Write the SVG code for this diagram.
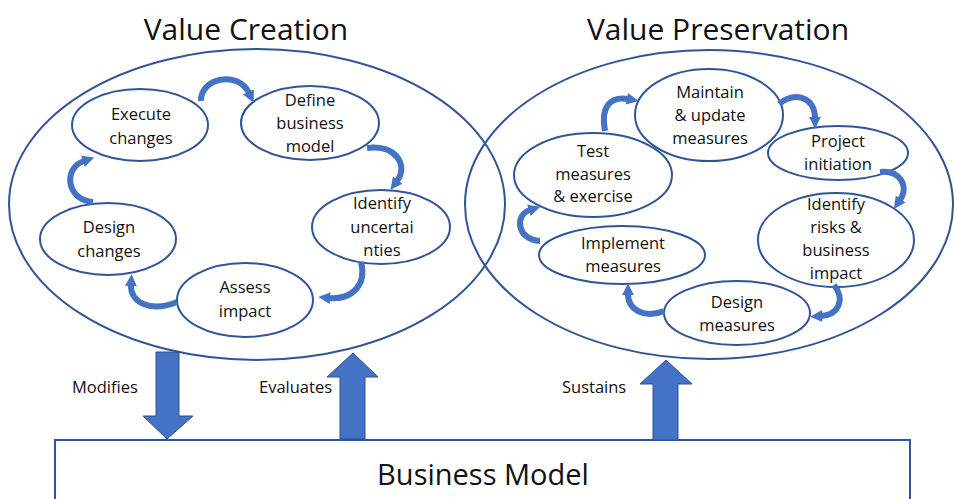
<svg xmlns="http://www.w3.org/2000/svg" width="954" height="499" viewBox="0 0 954 499">
<style>
  .big { fill: none; stroke: #2F5597; stroke-width: 2; }
  .node { fill: #fff; stroke: #2F5597; stroke-width: 2; }
  .t { font-family: "Open Sans", "Noto Sans", sans-serif; font-size: 16.5px; fill: #111; text-anchor: middle; }
  .title { font-family: "Open Sans", "Noto Sans", sans-serif; font-size: 30px; fill: #111; text-anchor: middle; }
  .lbl { font-family: "Open Sans", "Noto Sans", sans-serif; font-size: 16.5px; fill: #111; }
  .carrow { fill: none; stroke: #4472C4; stroke-width: 6; stroke-linecap: butt; marker-end: url(#head); }
  .block { fill: #4472C4; stroke: #2F528F; stroke-width: 1; }
</style>
<defs>
  <marker id="head" viewBox="0 0 10 10" refX="1" refY="5" markerWidth="2" markerHeight="2.3" orient="auto" markerUnits="strokeWidth">
    <path d="M0,0 L10,5 L0,10 Z" fill="#4472C4"/>
  </marker>
</defs>

<rect id="business-model-box" x="55" y="440" width="855" height="80" fill="#fff" stroke="#2F5597" stroke-width="2"/>

<g id="block-arrows">
  <polygon class="block" points="156,352 179,352 179,416 193,416 167,439 143,416 156,416"/>
  <polygon class="block" points="340,439 365,439 365,377 378,377 353,353 327,377 340,377"/>
  <polygon class="block" points="653,440 678,440 678,384 692,384 666,360 640,384 653,384"/>
</g>

<g id="value-creation">
  <ellipse class="big" cx="257" cy="204.5" rx="248" ry="155.5"/>
</g>
<g id="value-preservation">
  <ellipse class="big" cx="709" cy="204.5" rx="244" ry="154.5"/>
</g>

<g id="n-execute"><ellipse class="node" cx="140" cy="125" rx="68" ry="36"/></g>
<g id="n-define"><ellipse class="node" cx="310" cy="123" rx="69" ry="37"/></g>
<g id="n-identify-unc"><ellipse class="node" cx="381" cy="227" rx="69" ry="37"/></g>
<g id="n-design-changes"><ellipse class="node" cx="108" cy="239" rx="68" ry="36"/></g>
<g id="n-assess"><ellipse class="node" cx="245" cy="300" rx="68" ry="37"/></g>

<g id="n-maintain"><ellipse class="node" cx="709" cy="115" rx="74" ry="46"/></g>
<g id="n-project"><ellipse class="node" cx="838" cy="153" rx="70" ry="27"/></g>
<g id="n-test"><ellipse class="node" cx="593" cy="175" rx="79" ry="42"/></g>
<g id="n-identify-risks"><ellipse class="node" cx="836" cy="240" rx="78" ry="47"/></g>
<g id="n-implement"><ellipse class="node" cx="622" cy="255" rx="83" ry="29"/></g>
<g id="n-design-measures"><ellipse class="node" cx="737" cy="313" rx="73" ry="32"/></g>

<g id="connectors">
  <path class="carrow" d="M201,101 C200,78 238,70 249,93"/>
  <path class="carrow" d="M367,148 C395,144 409,165 397,181"/>
  <path class="carrow" d="M361,262 C367,285 352,300 329,298"/>
  <path class="carrow" d="M177,302 C150,313 130,302 131,285"/>
  <path class="carrow" d="M93,202 C66,200 63,168 84,161"/>
  <path class="carrow" d="M605,131 C600,105 612,96 628,99"/>
  <path class="carrow" d="M779,104 C795,91 815,97 815,118"/>
  <path class="carrow" d="M880,172 C901,170 909,187 900,200"/>
  <path class="carrow" d="M834,285 C846,300 838,315 821,316"/>
  <path class="carrow" d="M664,311 C645,319 628,310 628,294"/>
  <path class="carrow" d="M540,241 C517,240 514,215 530,210"/>
</g>

<g id="texts">
  <text class="title" x="246" y="40">Value Creation</text>
  <text class="title" x="718" y="40">Value Preservation</text>
  <text class="title" x="483" y="485" style="font-size:29px">Business Model</text>

  <text class="t" x="141" y="120">Execute</text>
  <text class="t" x="141" y="144">changes</text>
  <text class="t" x="310" y="106">Define</text>
  <text class="t" x="310" y="129">business</text>
  <text class="t" x="310" y="152">model</text>
  <text class="t" x="382" y="209">Identify</text>
  <text class="t" x="382" y="233">uncertai</text>
  <text class="t" x="382" y="256">nties</text>
  <text class="t" x="109" y="233">Design</text>
  <text class="t" x="109" y="257">changes</text>
  <text class="t" x="245" y="293">Assess</text>
  <text class="t" x="245" y="317">impact</text>

  <text class="t" x="710" y="98">Maintain</text>
  <text class="t" x="710" y="121">&amp; update</text>
  <text class="t" x="710" y="144">measures</text>
  <text class="t" x="838" y="147">Project</text>
  <text class="t" x="838" y="170">initiation</text>
  <text class="t" x="593" y="157">Test</text>
  <text class="t" x="593" y="180">measures</text>
  <text class="t" x="593" y="202">&amp; exercise</text>
  <text class="t" x="836" y="210">Identify</text>
  <text class="t" x="836" y="233">risks &amp;</text>
  <text class="t" x="836" y="256">business</text>
  <text class="t" x="836" y="279">impact</text>
  <text class="t" x="623" y="249">Implement</text>
  <text class="t" x="623" y="272">measures</text>
  <text class="t" x="737" y="308">Design</text>
  <text class="t" x="737" y="331">measures</text>

  <text class="lbl" x="72" y="393">Modifies</text>
  <text class="lbl" x="259" y="393">Evaluates</text>
  <text class="lbl" x="562" y="393">Sustains</text>
</g>
</svg>
